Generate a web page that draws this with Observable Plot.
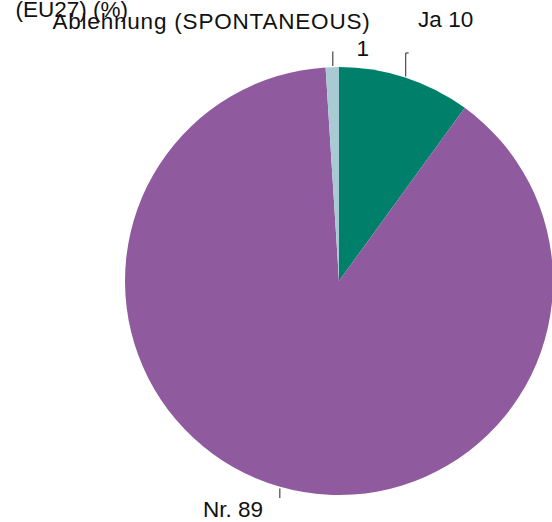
<!DOCTYPE html>
<html>
<head>
<meta charset="utf-8">
<script src="https://cdn.jsdelivr.net/npm/d3@7"></script>
<script src="https://cdn.jsdelivr.net/npm/@observablehq/plot@0.6"></script>
<style>
  html, body { margin: 0; padding: 0; background: #fff; overflow: hidden; }
  svg { display: block; }
</style>
</head>
<body>
<div id="chart"></div>
<script>
// ---- data ----
const categories = ["Ja", "Nr.", "Ablehnung (SPONTANEOUS)"];
const values = [10, 89, 1];
const colors = ["#00806a", "#8f5b9e", "#a8cad3"];
const title = "(EU27) (%)";

// ---- layout ----
const W = 552, H = 522;
const cx = 339, cy = 281, R = 214;
const fontSize = 22.5;

const data = categories.map((c, i) => ({category: c, value: values[i], color: colors[i]}));
const arcs = d3.pie().sort(null).value(d => d.value)(data);
arcs.forEach(a => {
  a.mid = (a.startAngle + a.endAngle) / 2;
  a.ax = cx + R * Math.sin(a.mid);
  a.ay = cy - R * Math.cos(a.mid);
});

// leader line lengths per slice
const leaderLen = [25, 11, 16];
const leaders = arcs.map((a, i) => {
  const up = Math.cos(a.mid) > 0;
  const y1 = a.ay + (up ? -1 : 1) * 1.5;
  const y2 = up ? a.ay - leaderLen[i] : a.ay + leaderLen[i];
  return {x: a.ax, y1, y2, category: a.data.category};
});

// labels (baseline positions relative to each slice's leader anchor)
const labelSpecs = [
  {text: `${categories[0]} ${values[0]}`, slice: 0, dx: 40, dy: -50.8},
  {text: `${categories[1]} ${values[1]}`, slice: 1, dx: -46.8, dy: 30.2},
  {text: categories[2], slice: 2, dx: -121.3, dy: -38.8},
  {text: String(values[2]), slice: 2, dx: 30, dy: -12}
];
const labels = labelSpecs.map(s => {
  const a = arcs[s.slice];
  return {text: s.text, x: a.ax + s.dx, y: a.ay + s.dy};
});

function pieMark(index, scales) {
  const sx = scales.x, sy = scales.y;
  const g = d3.create("svg:g").attr("transform", `translate(${sx(cx)},${sy(cy)})`);
  const arcGen = d3.arc().innerRadius(0).outerRadius(sx(R) - sx(0));
  g.selectAll("path").data(arcs).join("path")
    .attr("d", arcGen)
    .attr("fill", d => d.data.color)
    .attr("stroke", "none");
  return g.node();
}

const chart = Plot.plot({
  width: W,
  height: H,
  margin: 0,
  x: {domain: [0, W], range: [0, W], axis: null},
  y: {domain: [0, H], range: [0, H], axis: null},
  style: {fontFamily: "'Liberation Sans', Arial, sans-serif", background: "#fff"},
  marks: [
    pieMark,
    Plot.link(leaders, {x1: "x", x2: "x", y1: "y1", y2: "y2", stroke: "#555", strokeWidth: 1.3}),
    Plot.link([leaders[0]], {x1: "x", x2: d => d.x + 3, y1: "y2", y2: "y2", stroke: "#555", strokeWidth: 1.3}),
    Plot.text(labels, {x: "x", y: "y", text: "text", textAnchor: "middle", fontSize, fill: "#111", lineAnchor: "bottom"}),
    Plot.text([title], {x: 15, y: 16, text: d => d, textAnchor: "start", fontSize, fill: "#111", lineAnchor: "bottom"})
  ]
});
// widen the long uppercase label slightly to match the reference spacing
d3.select(chart).selectAll("text").filter(function() { return this.textContent === categories[2]; })
  .attr("letter-spacing", "0.8px");
document.getElementById("chart").appendChild(chart);
</script>
</body>
</html>
